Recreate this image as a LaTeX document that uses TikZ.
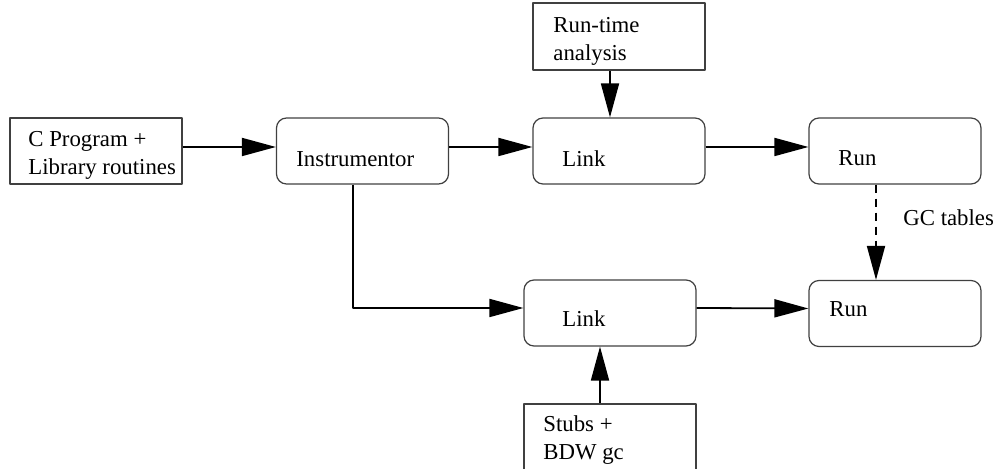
\documentclass[tikz,border=0pt]{standalone}
\usepackage{fontspec}
\setmainfont{Liberation Serif}
\usetikzlibrary{arrows.meta}
\begin{document}
\begin{tikzpicture}[x=0.5pt,y=-0.5pt,line join=round,
  font=\fontsize{11.4}{14}\selectfont,
  box/.style={draw=black!75,line width=.6pt,minimum width=86pt,minimum height=33pt,inner sep=0pt},
  rbox/.style={box,rounded corners=5pt},
  txt/.style={anchor=base west,inner sep=0pt,align=left},
  arr/.style={line width=.9pt,-{Triangle[length=17pt,width=9pt]}}]
\useasboundingbox (0,0) rectangle (997,469);
% boxes
\node[box] (cprog) at (96,151) {};
\node[rbox] (inst) at (362.5,151) {};
\node[rbox] (linkA) at (619,151) {};
\node[box,minimum height=33.5pt] (rta) at (619,36.5) {};
\node[rbox] (runA) at (895,151) {};
\node[rbox] (linkB) at (610,313) {};
\node[rbox] (runB) at (895,313.5) {};
\node[box] (stubs) at (610,437) {};
% texts (base = last line)
\node[txt] (cprogtxt) at (28,175) {C Program +\\Library routines};
\node[txt] (insttxt) at (296,167) {Instrumentor};
\node[txt] (linkAtxt) at (562,167) {Link};
\node[txt] (rtatxt) at (553,61) {Run-time\\analysis};
\node[txt] (runAtxt) at (838,166) {Run};
\node[txt] (linkBtxt) at (562,327) {Link};
\node[txt] (runBtxt) at (829,317) {Run};
\node[txt] (stubstxt) at (543,460) {Stubs +\\BDW gc};
\node[txt] (gctxt) at (903,226) {GC tables};
% connectors
\draw[arr] ([yshift=2pt]cprog.east) -- ([yshift=2pt]inst.west);
\draw[arr] ([yshift=2pt]inst.east) -- ([yshift=2pt]linkA.west);
\draw[arr] ([yshift=2pt]linkA.east) -- ([yshift=2pt]runA.west);
\draw[arr] ([xshift=-4.5pt]rta.south) -- ([xshift=-4.5pt]linkA.north);
\draw[arr,dash pattern=on 4pt off 3pt] ([xshift=-9.5pt]runA.south) -- ([xshift=-9.5pt]runB.north);
\draw[arr] ([xshift=-4.75pt]inst.south) |- ([yshift=2.5pt]linkB.west);
\draw[arr] ([yshift=2.5pt]linkB.east) -- ([yshift=2.5pt]runB.west);
\draw[arr] ([xshift=-5pt]stubs.north) -- ([xshift=-5pt]linkB.south);
\end{tikzpicture}
\end{document}
